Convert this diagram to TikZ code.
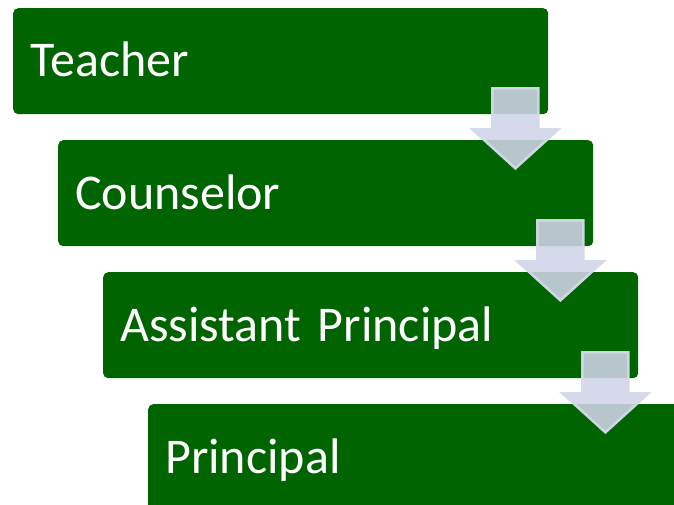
\documentclass[tikz,border=0pt]{standalone}
\usepackage{fontspec}
\setmainfont{Carlito}
\usetikzlibrary{calc}
\definecolor{stagegreen}{HTML}{006400}
\definecolor{arrowfill}{HTML}{D0D4E8}
\definecolor{arrowedge}{HTML}{D5DAEB}
\tikzset{
  stage/.style={fill=stagegreen, rounded corners=5pt, anchor=north west,
    text=white, text width=501pt, align=left, inner xsep=17pt, inner ysep=0pt,
    minimum height=106pt, text height=31.6pt, text depth=0pt,
    font=\fontsize{50}{58}\selectfont},
  flow arrow/.style={fill=arrowfill, fill opacity=0.88, draw=arrowedge,
    draw opacity=0.95, line width=2.5pt, line join=miter}
}
\def\stagearrow(#1){\draw[flow arrow] ($(#1.south east)+(-56,-26)$) -- ++(46,0) -- ++(0,41) -- ++(20,0) -- ++(-43,39) -- ++(-43,-39) -- ++(20,0) -- cycle;}

\begin{document}
\begin{tikzpicture}[x=1pt, y=-1pt]
				%%%%% FRAME %%%%%
				\useasboundingbox (0, 0) rectangle (674, 505);
				\clip (0, 0) rectangle (674, 505);
				
				%%%%% STAGES %%%%%
				\node[stage] (teacher) at (13, 8) {Teacher};
				\node[stage] (counselor) at (58, 140) {Counselor};
				\node[stage] (assistant) at (103, 272) {Assistant Principal};
				\node[stage] (principal) at (148, 404) {Principal};
				
				%%%%% ARROWS %%%%%
				\stagearrow(teacher)
				\stagearrow(counselor)
				\stagearrow(assistant)
\end{tikzpicture}
\end{document}
